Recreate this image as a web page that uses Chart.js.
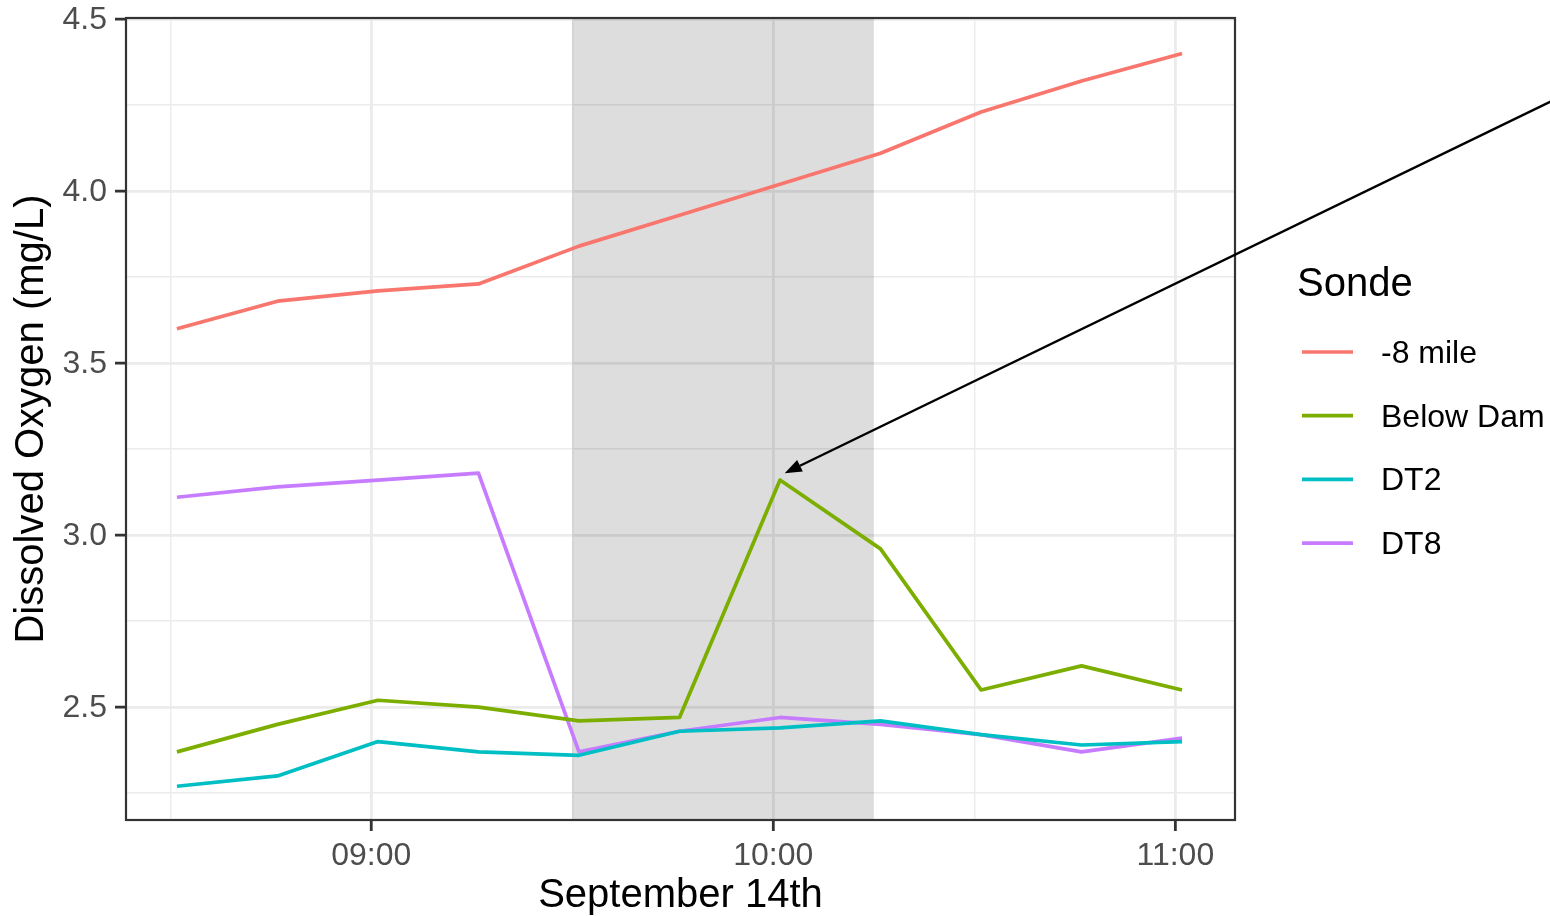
<!DOCTYPE html>
<html>
<head>
<meta charset="utf-8">
<title>Dissolved Oxygen – September 14th</title>
<script src="https://cdn.jsdelivr.net/npm/chart.js@4.4.1/dist/chart.umd.min.js"></script>
<style>
  html, body { margin: 0; padding: 0; background: #ffffff; }
  #wrap { width: 1550px; height: 916px; position: relative; }
</style>
</head>
<body>
<div id="wrap"><canvas id="chart" width="1550" height="916"></canvas></div>
<script>
// Sample times as minutes after midnight (08:31 … 11:01)
const sampleMinutes = [511, 526, 541, 556, 571, 586, 601, 616, 631, 646, 661];

// Dissolved oxygen (mg/L) per sonde
const seriesNames  = ['-8 mile', 'Below Dam', 'DT2', 'DT8'];
const mile8Values  = [3.60, 3.68, 3.71, 3.73, 3.84, 3.93, 4.02, 4.11, 4.23, 4.32, 4.40];
const belowDamVals = [2.37, 2.45, 2.52, 2.50, 2.46, 2.47, 3.16, 2.96, 2.55, 2.62, 2.55];
const dt2Values    = [2.27, 2.30, 2.40, 2.37, 2.36, 2.43, 2.44, 2.46, 2.42, 2.39, 2.40];
const dt8Values    = [3.11, 3.14, 3.16, 3.18, 2.37, 2.43, 2.47, 2.45, 2.42, 2.37, 2.41];
const seriesColors = ['#F8766D', '#7CAE00', '#00BFC4', '#C77CFF'];

// Axis ticks
const xMajorTicks = [540, 600, 660];
const xMinorTicks = [510, 570, 630];
const yMajorTicks = [2.5, 3.0, 3.5, 4.0, 4.5];
const yMinorTicks = [2.25, 2.75, 3.25, 3.75, 4.25];
const xRange = [503.4, 668.9];
const yRange = [2.172, 4.503];

// Highlighted window 09:30 – 10:15 and the annotation arrow (data units)
const shadeWindow = [570, 615];
const arrowTail = [716, 4.26];
const arrowTip  = [601.7, 3.18];

const xTitle = 'September 14th';
const yTitle = 'Dissolved Oxygen (mg/L)';
const legendTitle = 'Sonde';

const FONT = '"Liberation Sans", Arial, Helvetica, sans-serif';
const TICK_PX = 32, TITLE_PX = 40;

function hhmm(m) {
  const h = Math.floor(m / 60), mm = Math.round(m % 60);
  return String(h).padStart(2, '0') + ':' + String(mm).padStart(2, '0');
}

const allSeries = [mile8Values, belowDamVals, dt2Values, dt8Values];
const datasets = allSeries.map((vals, i) => ({
  label: seriesNames[i],
  data: sampleMinutes.map((t, j) => ({ x: t, y: vals[j] })),
  borderColor: seriesColors[i],
  backgroundColor: seriesColors[i],
  borderWidth: 3.7,
  pointRadius: 0,
  pointHoverRadius: 0,
  tension: 0,
  borderJoinStyle: 'round',
  borderCapStyle: 'butt',
  fill: false
}));

const isMajorX = v => xMajorTicks.includes(v);
const isMajorY = v => yMajorTicks.some(t => Math.abs(t - v) < 1e-9);

// Grey band behind the series, above the grid
const shadePlugin = {
  id: 'shade',
  beforeDatasetsDraw(chart) {
    const { ctx, chartArea: a, scales: { x } } = chart;
    const x0 = x.getPixelForValue(shadeWindow[0]);
    const x1 = x.getPixelForValue(shadeWindow[1]);
    ctx.save();
    ctx.fillStyle = 'rgba(0,0,0,0.135)';
    ctx.fillRect(x0, a.top, x1 - x0, a.bottom - a.top);
    ctx.restore();
  }
};

// Panel border, axis ticks, labels, titles, legend and the arrow
const decorPlugin = {
  id: 'decor',
  afterDatasetsDraw(chart) {
    const { ctx, chartArea: a, scales: { x, y } } = chart;
    ctx.save();

    // panel border
    ctx.strokeStyle = '#333333';
    ctx.lineWidth = 2.2;
    ctx.strokeRect(a.left, a.top, a.right - a.left, a.bottom - a.top);

    // tick marks
    ctx.lineWidth = 2.8;
    ctx.beginPath();
    yMajorTicks.forEach(v => {
      const py = y.getPixelForValue(v);
      ctx.moveTo(a.left - 11, py); ctx.lineTo(a.left, py);
    });
    xMajorTicks.forEach(v => {
      const px = x.getPixelForValue(v);
      ctx.moveTo(px, a.bottom); ctx.lineTo(px, a.bottom + 11);
    });
    ctx.stroke();

    // tick labels
    ctx.fillStyle = '#4d4d4d';
    ctx.font = `${TICK_PX}px ${FONT}`;
    ctx.textAlign = 'right';
    ctx.textBaseline = 'middle';
    yMajorTicks.forEach(v => {
      ctx.fillText(v.toFixed(1), a.left - 19, y.getPixelForValue(v) + 1);
    });
    ctx.textAlign = 'center';
    ctx.textBaseline = 'alphabetic';
    xMajorTicks.forEach(v => {
      ctx.fillText(hhmm(v), x.getPixelForValue(v), a.bottom + 45);
    });

    // axis titles
    ctx.fillStyle = '#000000';
    ctx.font = `${TITLE_PX}px ${FONT}`;
    ctx.fillText(xTitle, (a.left + a.right) / 2, a.bottom + 87);
    ctx.save();
    ctx.translate(43, (a.top + a.bottom) / 2);
    ctx.rotate(-Math.PI / 2);
    ctx.fillText(yTitle, 0, 0);
    ctx.restore();

    // legend
    ctx.textAlign = 'left';
    ctx.textBaseline = 'alphabetic';
    ctx.font = `${TITLE_PX}px ${FONT}`;
    ctx.fillText(legendTitle, 1297, 296);
    ctx.font = `${TICK_PX}px ${FONT}`;
    ctx.textBaseline = 'middle';
    seriesNames.forEach((name, i) => {
      const cy = 352 + i * 63.7;
      ctx.strokeStyle = seriesColors[i];
      ctx.lineWidth = 3.7;
      ctx.beginPath();
      ctx.moveTo(1302, cy); ctx.lineTo(1353, cy);
      ctx.stroke();
      ctx.fillStyle = '#000000';
      ctx.fillText(name, 1381, cy + 2);
    });

    // arrow
    const tx = x.getPixelForValue(arrowTail[0]), ty = y.getPixelForValue(arrowTail[1]);
    const hx = x.getPixelForValue(arrowTip[0]),  hy = y.getPixelForValue(arrowTip[1]);
    const ang = Math.atan2(hy - ty, hx - tx);
    const headLen = 17, headHalf = 6.5;
    const bx = hx - headLen * Math.cos(ang), by = hy - headLen * Math.sin(ang);
    ctx.strokeStyle = '#000000';
    ctx.fillStyle = '#000000';
    ctx.lineWidth = 2.4;
    ctx.beginPath();
    ctx.moveTo(tx, ty); ctx.lineTo(bx, by);
    ctx.stroke();
    ctx.beginPath();
    ctx.moveTo(hx, hy);
    ctx.lineTo(bx + headHalf * Math.sin(ang), by - headHalf * Math.cos(ang));
    ctx.lineTo(bx - headHalf * Math.sin(ang), by + headHalf * Math.cos(ang));
    ctx.closePath();
    ctx.fill();

    ctx.restore();
  }
};

new Chart(document.getElementById('chart'), {
  type: 'line',
  data: { datasets },
  plugins: [shadePlugin, decorPlugin],
  options: {
    responsive: false,
    animation: false,
    events: [],
    layout: { padding: { top: 18, right: 315, left: 0, bottom: 0 } },
    plugins: { legend: { display: false }, tooltip: { enabled: false }, title: { display: false } },
    scales: {
      x: {
        type: 'linear',
        min: xRange[0], max: xRange[1],
        afterBuildTicks: s => {
          s.ticks = [...xMinorTicks, ...xMajorTicks].sort((p, q) => p - q).map(v => ({ value: v }));
        },
        afterFit: s => { s.height = 96; },
        ticks: { display: false },
        border: { display: false },
        grid: {
          drawTicks: false,
          color: '#ebebeb',
          lineWidth: c => (isMajorX(c.tick.value) ? 2.8 : 1.4)
        }
      },
      y: {
        type: 'linear',
        min: yRange[0], max: yRange[1],
        afterBuildTicks: s => {
          s.ticks = [...yMinorTicks, ...yMajorTicks].sort((p, q) => p - q).map(v => ({ value: v }));
        },
        afterFit: s => { s.width = 126; },
        ticks: { display: false },
        border: { display: false },
        grid: {
          drawTicks: false,
          color: '#ebebeb',
          lineWidth: c => (isMajorY(c.tick.value) ? 2.8 : 1.4)
        }
      }
    }
  }
});
</script>
</body>
</html>
